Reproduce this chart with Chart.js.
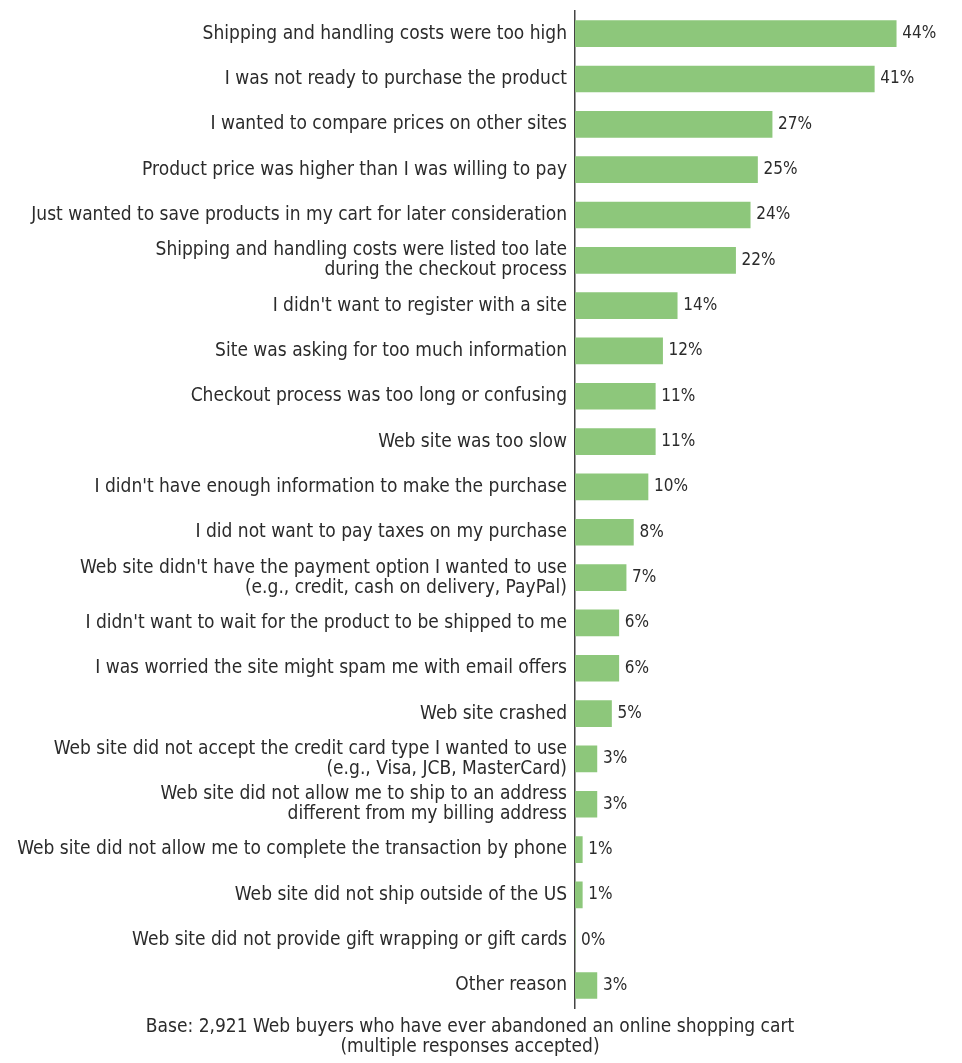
<!DOCTYPE html>
<html>
<head>
<meta charset="utf-8">
<script src="https://cdn.jsdelivr.net/npm/chart.js@4.4.0/dist/chart.umd.min.js"></script>
<style>
  body { margin: 0; background: #fff; }
  #wrap { width: 962px; height: 1063px; }
</style>
</head>
<body>
<div id="wrap"><canvas id="myChart" width="962" height="1063"></canvas></div>
<script>
// reasons (multi-line ones as arrays)
let reasons = [
    'Shipping and handling costs were too high',
    'I was not ready to purchase the product',
    'I wanted to compare prices on other sites',
    'Product price was higher than I was willing to pay',
    'Just wanted to save products in my cart for later consideration',
    ['Shipping and handling costs were listed too late', 'during the checkout process'],
    "I didn't want to register with a site",
    'Site was asking for too much information',
    'Checkout process was too long or confusing',
    'Web site was too slow',
    "I didn't have enough information to make the purchase",
    'I did not want to pay taxes on my purchase',
    ["Web site didn't have the payment option I wanted to use", '(e.g., credit, cash on delivery, PayPal)'],
    "I didn't want to wait for the product to be shipped to me",
    'I was worried the site might spam me with email offers',
    'Web site crashed',
    ['Web site did not accept the credit card type I wanted to use', '(e.g., Visa, JCB, MasterCard)'],
    ['Web site did not allow me to ship to an address', 'different from my billing address'],
    'Web site did not allow me to complete the transaction by phone',
    'Web site did not ship outside of the US',
    'Web site did not provide gift wrapping or gift cards',
    'Other reason'
];

// percent of respondents
let percents = [44, 41, 27, 25, 24, 22, 14, 12, 11, 11, 10, 8, 7, 6, 6, 5, 3, 3, 1, 1, 0, 3];

let footnote = [
    'Base: 2,921 Web buyers who have ever abandoned an online shopping cart',
    '(multiple responses accepted)'
];

let textFont = "'DejaVu Sans Condensed', sans-serif";

// draws "44%" etc. right after each bar
let valueLabels = {
    id: 'valueLabels',
    afterDatasetsDraw(chart) {
        let c = chart.ctx;
        let meta = chart.getDatasetMeta(0);
        c.save();
        c.font = '17px ' + textFont;
        c.fillStyle = '#2b2b2b';
        c.textBaseline = 'middle';
        meta.data.forEach((bar, i) => {
            c.fillText(percents[i] + '%', bar.x + 6, bar.y);
        });
        c.restore();
    }
};

let ctx = document.getElementById('myChart').getContext('2d');

let chart = new Chart(ctx, {
    type: 'bar',
    data: {
        labels: reasons,
        datasets: [{
            data: percents,
            backgroundColor: '#8dc77b',
            barThickness: 26
        }]
    },
    options: {
        indexAxis: 'y',
        responsive: false,
        animation: false,
        layout: { padding: { left: 0, right: 22, top: 11, bottom: 0 } },
        scales: {
            x: {
                display: false,
                min: 0,
                max: 50
            },
            y: {
                // keep the label column wide, chart.js caps it at half the width otherwise
                afterFit: (scale) => { scale.width = 575; },
                grid: { display: false },
                border: { display: true, color: '#444', width: 1.5 },
                ticks: {
                    color: '#2b2b2b',
                    padding: 0,
                    font: { family: textFont, size: 19, lineHeight: 1.05 }
                }
            }
        },
        plugins: {
            legend: { display: false },
            tooltip: { enabled: false },
            title: {
                display: true,
                position: 'bottom',
                text: footnote,
                color: '#2b2b2b',
                padding: { top: 8, bottom: 5 },
                font: { family: textFont, size: 19, weight: 'normal', lineHeight: 1.1 }
            }
        }
    },
    plugins: [valueLabels]
});
</script>
</body>
</html>
